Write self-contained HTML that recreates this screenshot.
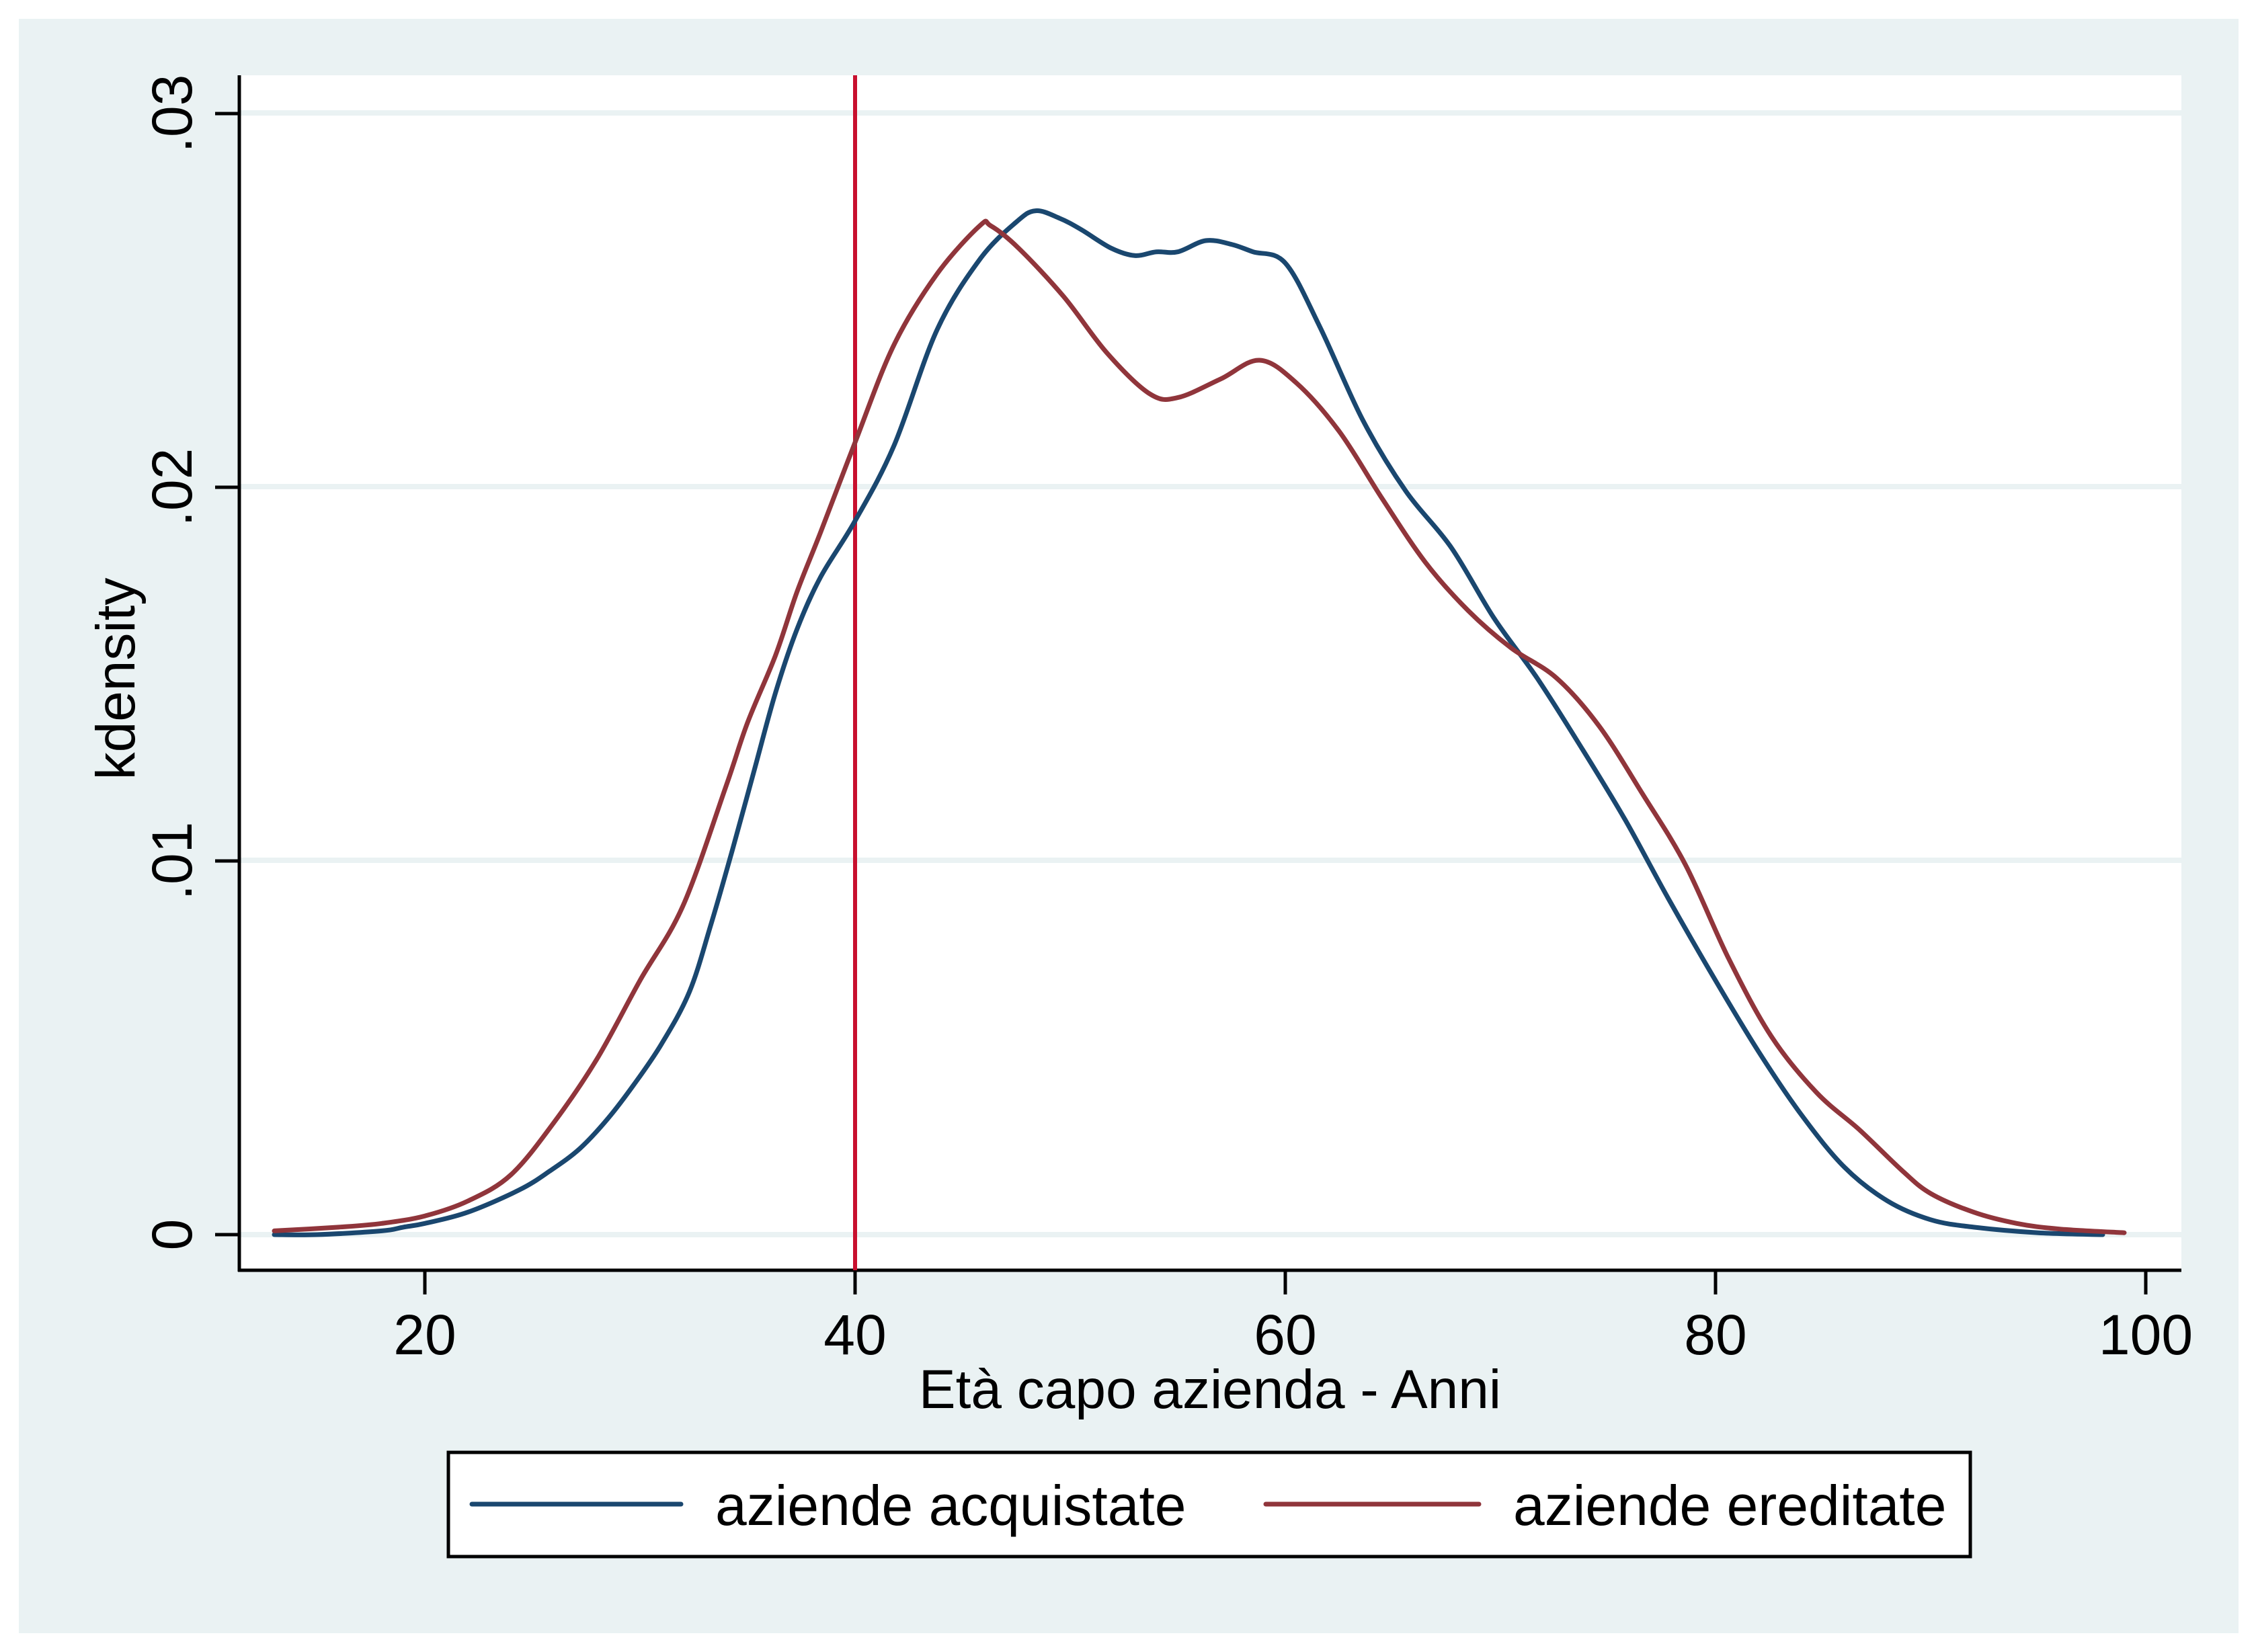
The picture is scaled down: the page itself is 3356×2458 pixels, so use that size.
<!DOCTYPE html>
<html><head><meta charset="utf-8"><style>
html,body{margin:0;padding:0;background:#fff;}
svg{display:block;}
text{font-family:"Liberation Sans",Arial,sans-serif;fill:#000;}
</style></head><body>
<svg id="s" width="3356" height="2458" viewBox="0 0 3356 2458" xmlns="http://www.w3.org/2000/svg">
<rect x="0" y="0" width="3356" height="2458" fill="#fff"/>
<rect x="28" y="28" width="3302" height="2402" fill="#eaf2f3"/>
<rect x="356" y="112" width="2889" height="1778" fill="#fff"/>
<!-- gridlines -->
<g fill="#eaf2f3">
<rect x="356" y="164" width="2889" height="8"/>
<rect x="356" y="720" width="2889" height="8"/>
<rect x="356" y="1276" width="2889" height="8"/>
<rect x="356" y="1833" width="2889" height="8"/>
</g>
<!-- axes -->
<g stroke="#000" stroke-width="5" fill="none">
<line x1="356" y1="112" x2="356" y2="1892"/>
<line x1="354" y1="1890" x2="3245" y2="1890"/>
<line x1="320" y1="169" x2="356" y2="169"/>
<line x1="320" y1="725" x2="356" y2="725"/>
<line x1="320" y1="1281" x2="356" y2="1281"/>
<line x1="320" y1="1837" x2="356" y2="1837"/>
<line x1="632" y1="1890" x2="632" y2="1926"/>
<line x1="1272" y1="1890" x2="1272" y2="1926"/>
<line x1="1912" y1="1890" x2="1912" y2="1926"/>
<line x1="2552" y1="1890" x2="2552" y2="1926"/>
<line x1="3192" y1="1890" x2="3192" y2="1926"/>
</g>
<!-- y tick labels -->
<g font-size="84" text-anchor="middle">
<text transform="translate(285,169) rotate(-90)">.03</text>
<text transform="translate(285,725) rotate(-90)">.02</text>
<text transform="translate(285,1281) rotate(-90)">.01</text>
<text transform="translate(285,1837) rotate(-90)">0</text>
<text x="632" y="2015">20</text>
<text x="1272" y="2015">40</text>
<text x="1912" y="2015">60</text>
<text x="2552" y="2015">80</text>
<text x="3192" y="2015">100</text>
<text x="1800" y="2095" font-size="82">Età capo azienda - Anni</text>
<text transform="translate(200,1010) rotate(-90)" font-size="82">kdensity</text>
</g>
<!-- vertical line -->
<line x1="1272" y1="112" x2="1272" y2="1890" stroke="#c8102e" stroke-width="6"/>
<g id="curves" fill="none" stroke-width="7" stroke-linejoin="round" stroke-linecap="round"></g>
<!-- legend -->
<rect x="667" y="2161" width="2264" height="155" fill="#fff" stroke="#000" stroke-width="5"/>
<line x1="702" y1="2238" x2="1013" y2="2238" stroke="#1a476f" stroke-width="7" stroke-linecap="round"/>
<line x1="1883" y1="2238" x2="2200" y2="2238" stroke="#90353b" stroke-width="7" stroke-linecap="round"/>
<g font-size="84">
<text x="1064" y="2269">aziende acquistate</text>
<text x="2251" y="2269">aziende ereditate</text>
</g>
</svg>
<script>
var blue=[[13,0],[15,0],[18,0.0001],[19,0.0002],[20,0.0003],[22,0.0006],[24.4,0.0012],[25.8,0.0017],[27.2,0.0023],[28.5,0.0031],[29.7,0.0040],[31,0.0051],[32.3,0.0065],[33.3,0.0083],[34.3,0.0103],[35.3,0.0124],[36.3,0.0145],[37.3,0.0162],[38.4,0.0176],[40,0.0191],[41.8,0.0211],[43.8,0.0242],[45.8,0.0261],[47.5,0.0271],[48.4,0.0274],[49.5,0.0272],[50.5,0.0269],[51.9,0.0264],[53,0.0262],[54,0.0263],[55,0.0263],[56.3,0.0266],[57.5,0.0265],[58.5,0.0263],[60,0.0260],[61.6,0.0243],[63.6,0.0218],[65.6,0.0199],[67.7,0.0184],[69.7,0.0165],[71.7,0.0149],[73.8,0.0130],[75.8,0.0111],[77.8,0.0090],[80,0.0068],[82,0.0049],[84,0.0032],[86,0.0018],[88,0.0009],[90,0.0004],[92,0.0002],[95,0.00005],[98,0]];
var red=[[13,0.0001],[16,0.0002],[18,0.0003],[20,0.0005],[22,0.0009],[24,0.0016],[26,0.0030],[28,0.0047],[30,0.0068],[32,0.0088],[34,0.0120],[35,0.0137],[36.3,0.0155],[37.3,0.0172],[38.4,0.0188],[40,0.0212],[41.8,0.0238],[43.8,0.0257],[45.8,0.0270],[46.3,0.0270],[47.6,0.0264],[49.7,0.0251],[51.7,0.0236],[53.7,0.0225],[55,0.0224],[57,0.0229],[58.8,0.0234],[60.5,0.0228],[62.5,0.0215],[64.5,0.0197],[66.5,0.0180],[68.5,0.0167],[70.5,0.0157],[72.6,0.0149],[74.6,0.0136],[76.6,0.0118],[78.6,0.0099],[80.6,0.0074],[82.6,0.0053],[84.7,0.0038],[86.7,0.0028],[88.7,0.0017],[90,0.0011],[92,0.0006],[94,0.0003],[96,0.00015],[99,0.00005]];
function X(a){return 632+(a-20)*32;}
function Y(d){return 1837-d*55600;}
function path(p){
 var pts=p.map(function(q){return [X(q[0]),Y(q[1])];});
 var d="M"+pts[0][0].toFixed(1)+","+pts[0][1].toFixed(1);
 for(var i=0;i<pts.length-1;i++){
  var p0=pts[Math.max(0,i-1)],p1=pts[i],p2=pts[i+1],p3=pts[Math.min(pts.length-1,i+2)];
  var c1x=p1[0]+(p2[0]-p0[0])/6,c1y=p1[1]+(p2[1]-p0[1])/6;
  var c2x=p2[0]-(p3[0]-p1[0])/6,c2y=p2[1]-(p3[1]-p1[1])/6;
  d+=" C"+c1x.toFixed(1)+","+c1y.toFixed(1)+" "+c2x.toFixed(1)+","+c2y.toFixed(1)+" "+p2[0].toFixed(1)+","+p2[1].toFixed(1);
 }
 return d;
}
var g=document.getElementById("curves");
function add(p,c){var e=document.createElementNS("http://www.w3.org/2000/svg","path");e.setAttribute("d",path(p));e.setAttribute("stroke",c);g.appendChild(e);}
add(blue,"#1a476f");
add(red,"#90353b");
</script>
</body></html>
